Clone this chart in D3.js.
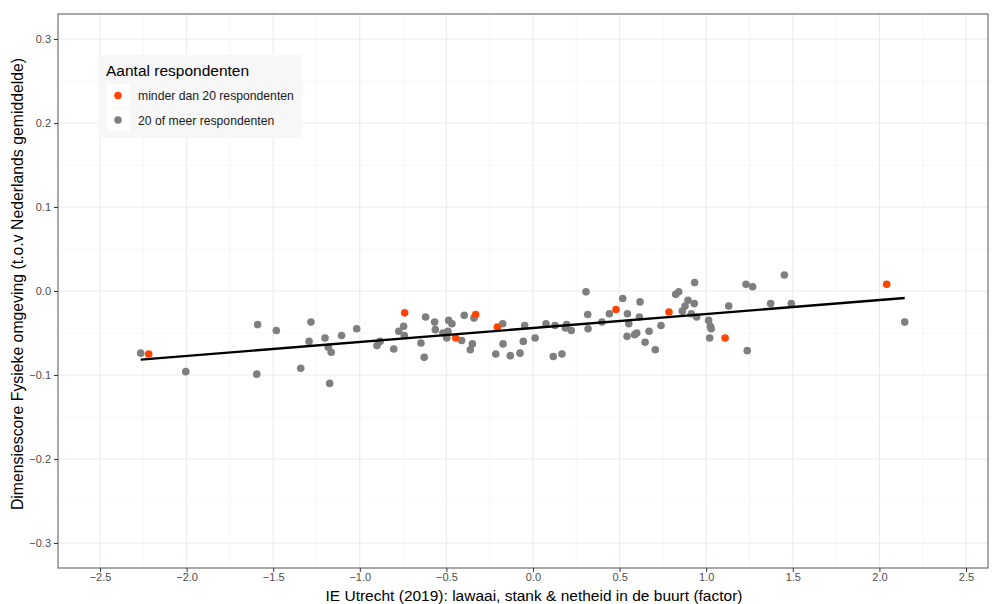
<!DOCTYPE html>
<html><head><meta charset="utf-8">
<script src="https://cdn.jsdelivr.net/npm/d3@7"></script>
<style>body{margin:0;background:#fff}svg{display:block}text{font-family:"Liberation Sans",Arial,sans-serif}</style>
</head><body>
<svg id="c" width="1000" height="604"></svg>
<script>
// Data: [x, y] pairs per group
const xFactor = [-2.265,-2.005,-1.59,-1.595,-1.482,-1.282,-1.293,-1.341,-1.201,-1.182,-1.165,-1.174,-1.105,-1.018,-0.901,-0.883,-0.804,-0.747,-0.775,-0.743,-0.647,-0.628,-0.620,-0.568,-0.564,-0.487,-0.468,-0.520,-0.491,-0.498,-0.412,-0.397,-0.341,-0.350,-0.362,-0.175,-0.215,-0.173,-0.131,-0.075,-0.056,-0.048,0.012,0.075,0.127,0.117,0.167,0.194,0.187,0.221,0.306,0.316,0.318,0.398,0.441,0.518,0.545,0.553,0.543,0.587,0.599,0.618,0.614,0.670,0.647,0.706,0.739,0.824,0.841,0.895,0.878,0.862,0.931,0.914,0.945,0.933,1.014,1.024,1.029,1.020,1.130,1.237,1.230,1.268,1.451,1.372,1.491,2.146];
const yScore = [-0.074,-0.096,-0.040,-0.099,-0.047,-0.037,-0.060,-0.092,-0.056,-0.067,-0.073,-0.110,-0.053,-0.045,-0.065,-0.060,-0.069,-0.042,-0.048,-0.053,-0.062,-0.079,-0.031,-0.037,-0.046,-0.035,-0.039,-0.050,-0.048,-0.056,-0.059,-0.029,-0.032,-0.063,-0.070,-0.039,-0.075,-0.063,-0.077,-0.074,-0.060,-0.041,-0.056,-0.039,-0.041,-0.078,-0.075,-0.040,-0.044,-0.047,-0.001,-0.028,-0.045,-0.037,-0.027,-0.009,-0.027,-0.039,-0.054,-0.052,-0.050,-0.013,-0.031,-0.048,-0.061,-0.070,-0.041,-0.004,-0.001,-0.011,-0.018,-0.024,-0.015,-0.027,-0.031,0.010,-0.035,-0.042,-0.045,-0.056,-0.018,-0.071,0.008,0.005,0.019,-0.015,-0.015,-0.037];
const xFew = [-2.219,-0.741,-0.446,-0.331,-0.206,0.479,0.785,1.109,2.042];
const yFew = [-0.075,-0.026,-0.056,-0.028,-0.043,-0.022,-0.025,-0.056,0.008];
const xTicks = [-2.5,-2.0,-1.5,-1.0,-0.5,0.0,0.5,1.0,1.5,2.0,2.5];
const yTicks = [-0.3,-0.2,-0.1,0.0,0.1,0.2,0.3];
const groups = ["minder dan 20 respondenten","20 of meer respondenten"];
const groupColors = ["#FF4500","#7F7F7F"];

const svg = d3.select("#c");
const L=58,R=988,T=14,B=568;
const x = d3.scaleLinear().domain([-2.7425,2.627]).range([L,R]);
const y = d3.scaleLinear().domain([-0.3298,0.3298]).range([B,T]);

svg.append("rect").attr("x",L).attr("y",T).attr("width",R-L).attr("height",B-T).attr("fill","#fff");
// minor grid
const xMinor = xTicks.slice(0,-1).map((v,i)=>(v+xTicks[i+1])/2).concat([-2.75]).filter(v=>v>=x.domain()[0]&&v<=x.domain()[1]);
const yMinor = yTicks.slice(0,-1).map((v,i)=>(v+yTicks[i+1])/2);
const g = svg.append("g");
g.selectAll(".xm").data(xMinor).join("line").attr("x1",d=>x(d)).attr("x2",d=>x(d)).attr("y1",T).attr("y2",B).attr("stroke","#f2f2f2").attr("stroke-width",0.6);
g.selectAll(".ym").data(yMinor).join("line").attr("y1",d=>y(d)).attr("y2",d=>y(d)).attr("x1",L).attr("x2",R).attr("stroke","#f2f2f2").attr("stroke-width",0.6);
g.selectAll(".xM").data(xTicks).join("line").attr("x1",d=>x(d)).attr("x2",d=>x(d)).attr("y1",T).attr("y2",B).attr("stroke","#ebebeb").attr("stroke-width",1.1);
g.selectAll(".yM").data(yTicks).join("line").attr("y1",d=>y(d)).attr("y2",d=>y(d)).attr("x1",L).attr("x2",R).attr("stroke","#ebebeb").attr("stroke-width",1.1);

// points
const many = xFactor.map((v,i)=>[v,yScore[i]]);
const few = xFew.map((v,i)=>[v,yFew[i]]);
svg.append("g").selectAll("circle").data(many).join("circle").attr("cx",d=>x(d[0])).attr("cy",d=>y(d[1])).attr("r",3.8).attr("fill",groupColors[1]);
svg.append("g").selectAll("circle").data(few).join("circle").attr("cx",d=>x(d[0])).attr("cy",d=>y(d[1])).attr("r",3.8).attr("fill",groupColors[0]);

// linear fit over all points
const all = many.concat(few);
const mx = d3.mean(all,d=>d[0]), my = d3.mean(all,d=>d[1]);
const slope = d3.sum(all,d=>(d[0]-mx)*(d[1]-my))/d3.sum(all,d=>(d[0]-mx)**2);
const icpt = my - slope*mx;
const [x0,x1] = d3.extent(all,d=>d[0]);
svg.append("line").attr("x1",x(x0)).attr("x2",x(x1)).attr("y1",y(icpt+slope*x0)).attr("y2",y(icpt+slope*x1)).attr("stroke","#000").attr("stroke-width",2.4);

// border
svg.append("rect").attr("x",L).attr("y",T).attr("width",R-L).attr("height",B-T).attr("fill","none").attr("stroke","#555").attr("stroke-width",1);

// axes
const xa = svg.append("g").attr("transform",`translate(0,${B})`).call(d3.axisBottom(x).tickValues(xTicks).tickFormat(d3.format(".1f")).tickSize(4).tickSizeOuter(0));
const ya = svg.append("g").attr("transform",`translate(${L},0)`).call(d3.axisLeft(y).tickValues(yTicks).tickFormat(d3.format(".1f")).tickSize(4).tickSizeOuter(0));
[xa,ya].forEach(a=>{a.select(".domain").remove();a.selectAll("line").attr("stroke","#333");a.selectAll("text").attr("fill","#4d4d4d").attr("font-size",11).attr("font-family","Liberation Sans, Arial, sans-serif");});
xa.selectAll("text").attr("y",5).attr("dy","0.71em");
ya.selectAll("text").attr("x",-7);

svg.append("text").attr("x",534).attr("y",601).attr("text-anchor","middle").attr("font-size",15.5).attr("fill","#000").text("IE Utrecht (2019): lawaai, stank & netheid in de buurt (factor)");
svg.append("text").attr("transform",`translate(23,284) rotate(-90)`).attr("text-anchor","middle").attr("font-size",15.8).attr("fill","#000").text("Dimensiescore Fysieke omgeving (t.o.v Nederlands gemiddelde)");

// legend
const lg = svg.append("g");
lg.append("rect").attr("x",98).attr("y",55).attr("width",204).attr("height",83).attr("fill","#f7f7f7");
lg.append("text").attr("x",106).attr("y",76).attr("font-size",15.5).attr("fill","#000").text("Aantal respondenten");
lg.selectAll(".k").data(groups).join("rect").attr("x",107).attr("y",(d,i)=>84+i*24).attr("width",23).attr("height",23).attr("fill","#fff");
lg.selectAll("circle").data(groups).join("circle").attr("cx",118).attr("cy",(d,i)=>95.5+i*24.5).attr("r",3.8).attr("fill",(d,i)=>groupColors[i]);
lg.selectAll(".lt").data(groups).join("text").attr("x",138).attr("y",(d,i)=>100+i*24.5).attr("font-size",12.2).attr("fill","#1a1a1a").text(d=>d);
</script>
</body></html>
